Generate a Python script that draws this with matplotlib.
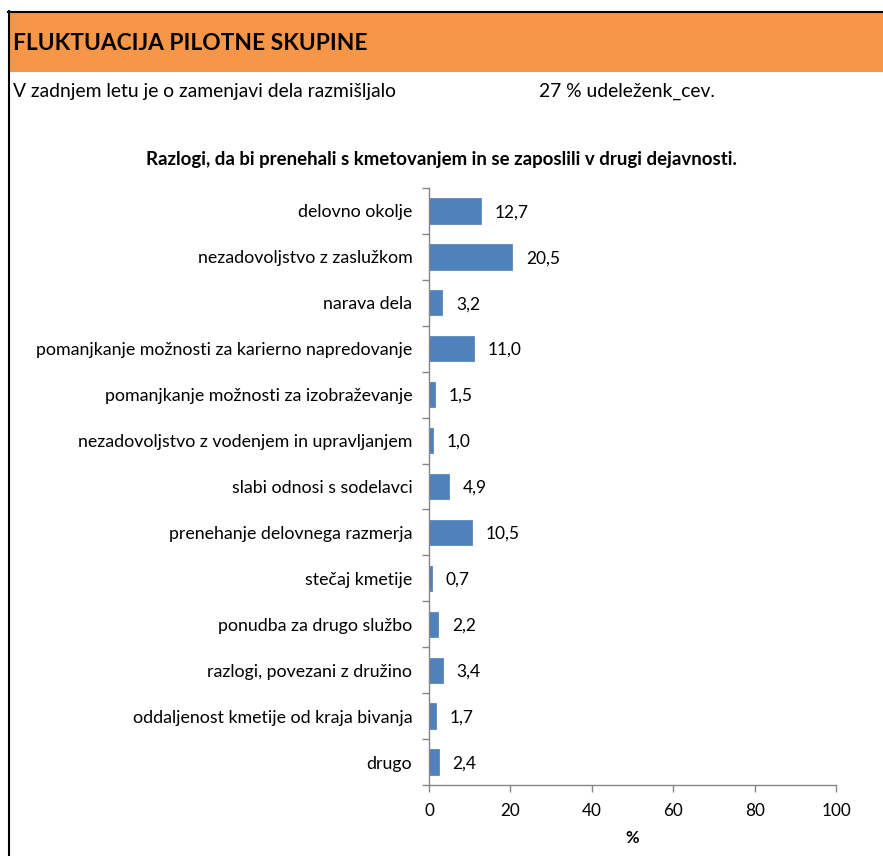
import matplotlib
matplotlib.use("Agg")
import matplotlib.pyplot as plt
from matplotlib.patches import Rectangle
from matplotlib.lines import Line2D
import numpy as np

plt.rcParams['font.family'] = ['Lato', 'DejaVu Sans']

categories = [
    "delovno okolje",
    "nezadovoljstvo z zaslužkom",
    "narava dela",
    "pomanjkanje možnosti za karierno napredovanje",
    "pomanjkanje možnosti za izobraževanje",
    "nezadovoljstvo z vodenjem in upravljanjem",
    "slabi odnosi s sodelavci",
    "prenehanje delovnega razmerja",
    "stečaj kmetije",
    "ponudba za drugo službo",
    "razlogi, povezani z družino",
    "oddaljenost kmetije od kraja bivanja",
    "drugo",
]
values = [12.7, 20.5, 3.2, 11.0, 1.5, 1.0, 4.9, 10.5, 0.7, 2.2, 3.4, 1.7, 2.4]
xticks = [0, 20, 40, 60, 80, 100]

W, H = 883, 856
fig = plt.figure(figsize=(W / 100, H / 100), dpi=100)

def fx(px):
    return px / W

def fy(py):
    return 1 - py / H

# header band
fig.patches.append(Rectangle((fx(9), fy(72)), fx(W - 9), (72 - 12) / H,
                             transform=fig.transFigure, facecolor="#F79646",
                             edgecolor="none", zorder=0))
fig.lines.append(Line2D([fx(8), 1], [fy(11.5), fy(11.5)], transform=fig.transFigure,
                        color="black", lw=1.5))
fig.lines.append(Line2D([fx(8.5), fx(8.5)], [fy(11), 0], transform=fig.transFigure,
                        color="black", lw=1.5))

fig.text(fx(13), fy(43), "FLUKTUACIJA PILOTNE SKUPINE", fontsize=16.4,
         fontweight="bold", va="center", ha="left")
fig.text(fx(13), fy(91), "V zadnjem letu je o zamenjavi dela razmišljalo", fontsize=13.9,
         va="center", ha="left")
fig.text(fx(539), fy(91), "27 % udeleženk_cev.", fontsize=13.9, va="center", ha="left")
fig.text(fx(441), fy(160), "Razlogi, da bi prenehali s kmetovanjem in se zaposlili v drugi dejavnosti.",
         fontsize=13.4, fontweight="bold", va="center", ha="center")

ax = fig.add_axes([fx(429), fy(785), fx(836 - 429), (785 - 188) / H])
y = np.arange(len(categories))
ax.barh(y, values, height=0.55, color="#4F81BD", edgecolor="#4A7EBB", lw=0.5)
ax.set_ylim(len(categories) - 0.5, -0.5)
ax.set_xlim(0, 100)
ax.set_yticks(y)
ax.set_yticklabels(categories, fontsize=12.8)
ax.set_yticks(np.arange(len(categories) + 1) - 0.5, minor=True)
ax.tick_params(axis="y", which="major", length=0, pad=12)
ax.tick_params(axis="y", which="minor", length=5, color="#868686", width=1)
ax.set_xticks(xticks)
ax.set_xticklabels([str(t) for t in xticks], fontsize=12.3)
ax.tick_params(axis="x", length=5, color="#868686", width=1, pad=8)
for s in ["top", "right"]:
    ax.spines[s].set_visible(False)
for s in ["left", "bottom"]:
    ax.spines[s].set_color("#868686")
    ax.spines[s].set_linewidth(1)
ax.set_xlabel("%", fontsize=12, fontweight="bold", labelpad=8)

for yi, v in zip(y, values):
    ax.annotate(f"{v:.1f}".replace(".", ","), (v, yi), xytext=(10, -1),
                textcoords="offset points", va="center", ha="left", fontsize=12.5)

fig.savefig("out.png", dpi=100)
